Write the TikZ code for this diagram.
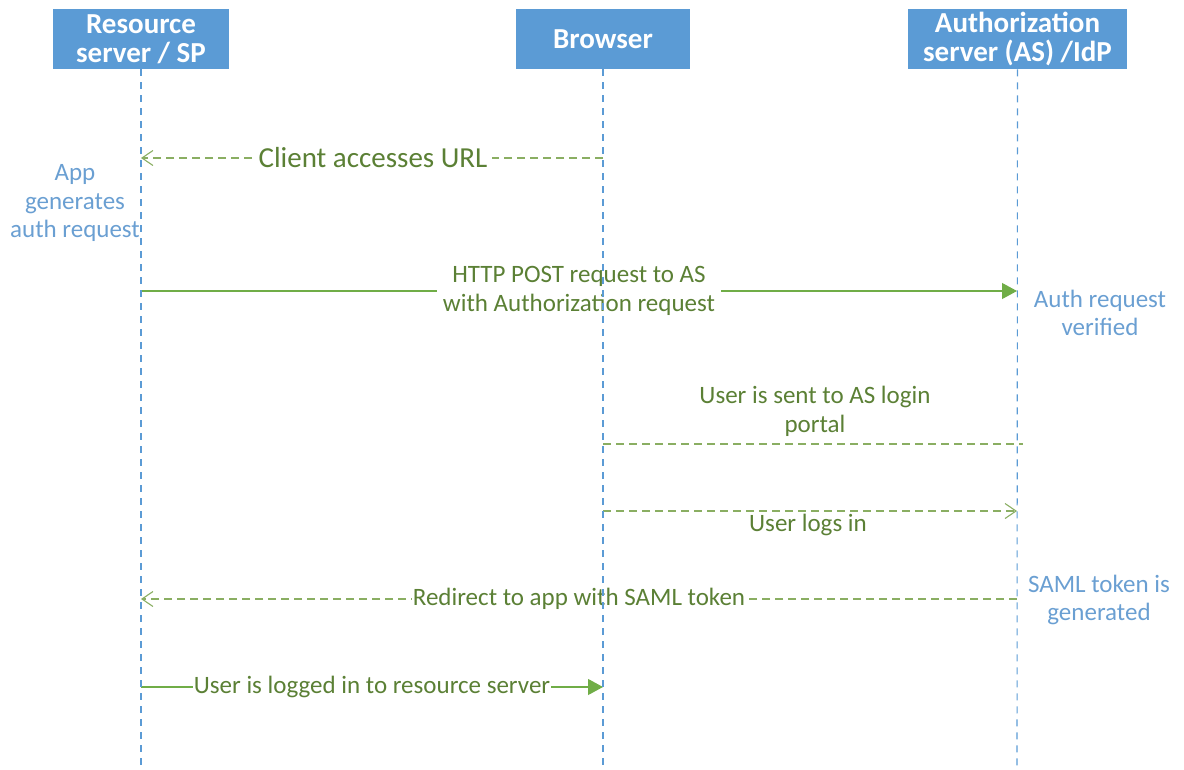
\documentclass[tikz,border=0pt]{standalone}
\usepackage{fontspec}
\setmainfont{Carlito}
\usetikzlibrary{arrows.meta}
\definecolor{hdrblue}{HTML}{5B9BD5}
\definecolor{lineblue}{HTML}{5B9BD5}
\definecolor{noteblue}{HTML}{6A9FD2}
\definecolor{msggreen}{HTML}{70AD47}
\definecolor{dashgreen}{HTML}{8AAE62}
\definecolor{txtgreen}{HTML}{5B8035}
\tikzset{
  x=1pt, y=1pt,
  header/.style={fill=hdrblue, text=white, font=\fontsize{29}{30}\selectfont\bfseries,
    align=center, inner sep=0pt, anchor=north},
  lifeline/.style={lineblue, line width=1.1pt, dash pattern=on 7pt off 6pt},
  callmsg/.style={msggreen, line width=1.1pt, -{Triangle[length=15pt,width=16pt]}},
  replymsg/.style={dashgreen, line width=1.1pt, dash pattern=on 8pt off 5pt},
  openhead/.style={-{Straight Barb[length=11pt,width=15pt,line width=1.1pt]}},
  msglabel/.style={text=txtgreen, font=\fontsize{25}{29}\selectfont, align=center,
    fill=white, inner sep=3pt},
  note/.style={text=noteblue, font=\fontsize{25}{28.5}\selectfont, align=center, inner sep=0pt},
}
\begin{document}
\begin{tikzpicture}
\useasboundingbox (0,0) rectangle (1184,-769);

% participants
\node[header, minimum width=176pt, minimum height=60pt] (rs) at (141,-9) {Resource\\[-1pt]server / SP};
\node[header, minimum width=174pt, minimum height=60pt] (br) at (603,-9) {Browser};
\node[header, minimum width=219pt, minimum height=60pt] (as) at (1017.5,-9) {Authorization\\[-1pt]server (AS) /IdP};

% lifeline ends
\coordinate (rsEnd) at (141,-769);
\coordinate (brEnd) at (603,-769);
\coordinate (asEnd) at (1017,-769);

% message anchor points on the lifelines
\coordinate (rs1) at (141,-158);  \coordinate (br1) at (603,-158);
\coordinate (rs2) at (141,-291);  \coordinate (as2) at (1017,-291);
\coordinate (br3) at (603,-444);  \coordinate (as3) at (1023,-444);
\coordinate (br4) at (603,-511);  \coordinate (as4) at (1017,-511);
\coordinate (as5) at (1017,-599); \coordinate (rs5) at (141,-599);
\coordinate (rs6) at (141,-687);  \coordinate (br6) at (603,-687);

% messages
\draw[replymsg, openhead] (br1) -- (rs1);
\node[msglabel, font=\fontsize{29}{34}\selectfont, inner sep=5pt] (m1) at (373,-158) {Client accesses URL};

\draw[callmsg] (rs2) -- (as2);
\node[msglabel, inner sep=6pt] (m2) at (579,-291) {HTTP POST request to AS\\with Authorization request};

\draw[replymsg] (br3) -- (as3);
\node[msglabel, fill=none] (m3) at (815,-411) {User is sent to AS login\\portal};

\draw[replymsg, openhead] (br4) -- (as4);
\node[msglabel, fill=none] (m4) at (808,-525) {User logs in};

\draw[replymsg, openhead] (as5) -- (rs5);
\node[msglabel, inner sep=0.5pt] (m5) at (579,-599) {Redirect to app with SAML token};

\draw[callmsg] (rs6) -- (br6);
\node[msglabel, inner sep=0.5pt] (m6) at (372,-687) {User is logged in to resource server};

% lifelines
\draw[lifeline] (rs.south) -- (rsEnd);
\draw[lifeline] (br.south) -- (brEnd);
\draw[lifeline] (as.south) -- (asEnd);

% notes beside the lifelines
\node[note] (n1) at (75,-203) {App\\generates\\auth request};
\node[note] (n2) at (1100,-313) {Auth request\\verified};
\node[note] (n3) at (1099,-600) {SAML token is\\generated};
\end{tikzpicture}
\end{document}
